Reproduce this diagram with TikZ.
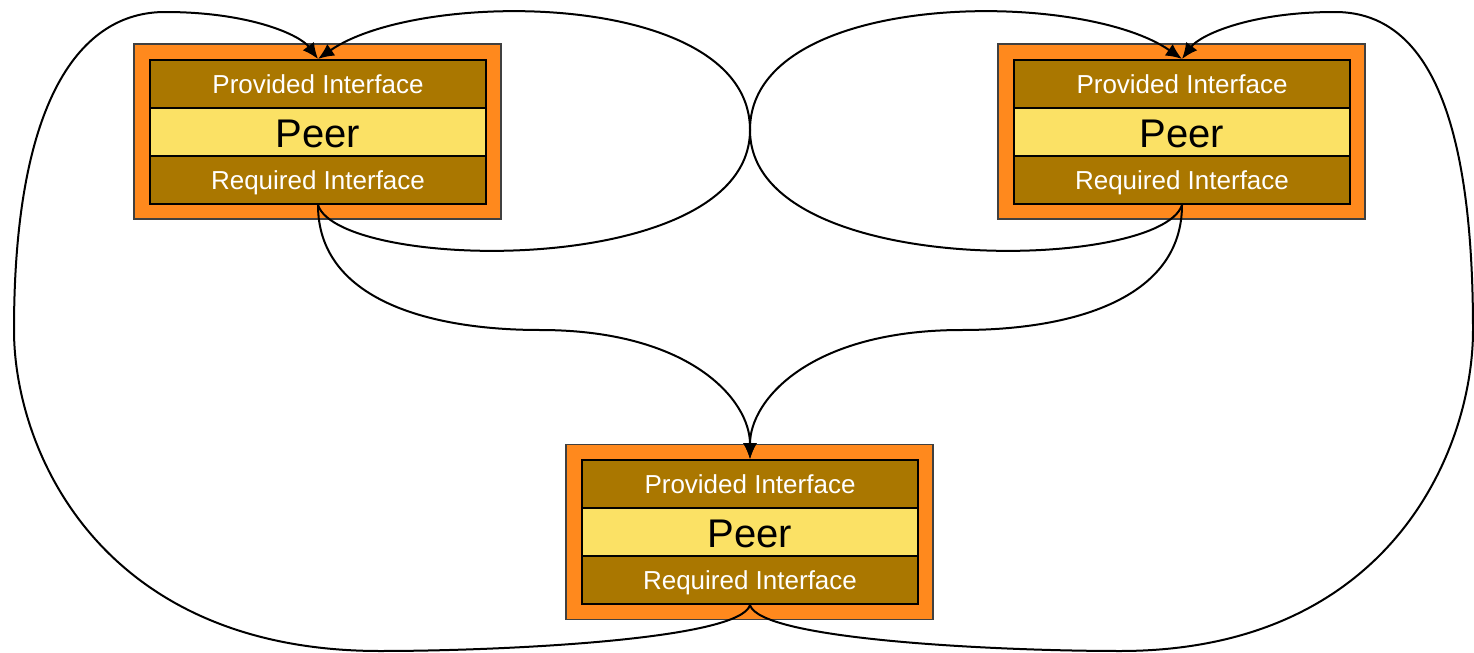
\documentclass[tikz,border=0pt]{standalone}
\usepackage{fontspec}
\setmainfont{Liberation Sans}
\usetikzlibrary{arrows.meta}

\definecolor{peerorange}{RGB}{255,137,29}
\definecolor{peerbrown}{RGB}{170,119,0}
\definecolor{peeryellow}{RGB}{251,225,101}

\tikzset{
	peerframe/.style={draw=black!75,fill=peerorange,line width=0.7pt,minimum width=183.5pt,minimum height=87.5pt,inner sep=0pt},
	iface/.style={draw,fill=peerbrown,line width=1pt,text=white,font=\fontsize{13}{15}\selectfont,text height=12pt,text depth=2.5pt,minimum width=168pt,minimum height=24pt,inner sep=0pt},
	core/.style={draw,fill=peeryellow,line width=1pt,font=\fontsize{20}{22}\selectfont,text height=19.5pt,text depth=4.2pt,minimum width=168pt,minimum height=24pt,inner sep=0pt},
	link/.style={-{Latex[length=8pt,width=7pt]},line width=1pt},
}

\begin{document}
\begin{tikzpicture}[x=0.5pt,y=-0.5pt]
	\useasboundingbox (0,0) rectangle (1474,653);

	%peers
	\node[peerframe] (L)  at (317.5,131.5) {};		%left peer
	\node[iface]     (Lp) at (318,84)  {Provided Interface};
	\node[core]      (Lc) at (318,132) {Peer};
	\node[iface]     (Lr) at (318,180) {Required Interface};

	\node[peerframe] (R)  at (1181.5,131.5) {};	%right peer
	\node[iface]     (Rp) at (1182,84)  {Provided Interface};
	\node[core]      (Rc) at (1182,132) {Peer};
	\node[iface]     (Rr) at (1182,180) {Required Interface};

	\node[peerframe] (B)  at (749.5,532) {};		%bottom peer
	\node[iface]     (Bp) at (750,484) {Provided Interface};
	\node[core]      (Bc) at (750,532) {Peer};
	\node[iface]     (Br) at (750,580) {Required Interface};

	%turning points
	\coordinate (waist) at (750,130);
	\coordinate (lhip)  at (14,330);
	\coordinate (rhip)  at (1473,330);

	%links
	\draw[link] (Lr.south) .. controls (318,300) and (430,330) .. (540,330)
		.. controls (690,330) and (750,400) .. (Bp.north);		%left to bottom
	\draw[link] (Rr.south) .. controls (1182,300) and (1070,330) .. (962,330)
		.. controls (810,330) and (750,400) .. (Bp.north);		%right to bottom
	\draw[link] (Lr.south) .. controls (340,272) and (750,280) .. (waist)
		.. controls (750,-10) and (1080,-12) .. (Rp.north);		%left to right
	\draw[link] (Rr.south) .. controls (1160,272) and (750,280) .. (waist)
		.. controls (750,-10) and (420,-12) .. (Lp.north);		%right to left
	\draw[link] (Br.south) .. controls (740,640) and (500,651) .. (380,651)
		.. controls (100,651) and (14,450) .. (lhip)
		.. controls (14,100) and (80,12) .. (165,12)
		.. controls (250,12) and (300,35) .. (Lp.north);		%bottom to left
	\draw[link] (Br.south) .. controls (760,640) and (1000,651) .. (1120,651)
		.. controls (1390,651) and (1473,450) .. (rhip)
		.. controls (1473,100) and (1420,12) .. (1335,12)
		.. controls (1250,12) and (1200,35) .. (Rp.north);		%bottom to right
\end{tikzpicture}
\end{document}
